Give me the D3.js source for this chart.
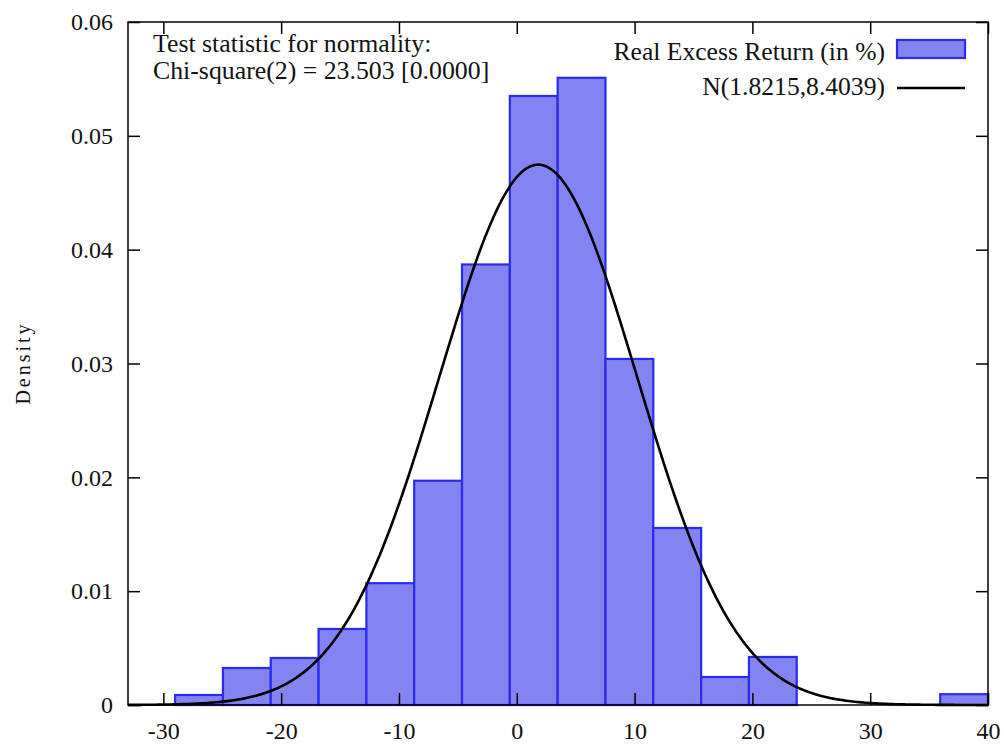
<!DOCTYPE html>
<html>
<head>
<meta charset="utf-8">
<script src="https://cdn.jsdelivr.net/npm/d3@7"></script>
<style>
  body { margin: 0; background: #fff; }
  text { font-family: "Liberation Serif", "DejaVu Serif", serif; fill: #111; }
</style>
</head>
<body>
<div id="chart"></div>
<script>
// Histogram data (density per bin), bins span binLow..binHigh
var binLow = -29.0;
var binHigh = 40.0;
var densities = [0.00088, 0.00325, 0.00413, 0.00668, 0.0107, 0.0197, 0.0387, 0.0535,
                 0.0551, 0.0304, 0.01555, 0.00246, 0.00422, 0, 0, 0, 0.00095];

// Fitted normal
var normMean = 1.8215;
var normSd = 8.4039;

var xTicks = [-30, -20, -10, 0, 10, 20, 30, 40];
var yTicks = [0, 0.01, 0.02, 0.03, 0.04, 0.05, 0.06];

var seriesLabel = "Real Excess Return (in %)";
var normLabel = "N(1.8215,8.4039)";
var testLines = ["Test statistic for normality:", "Chi-square(2) = 23.503 [0.0000]"];

var W = 1004, H = 747;
var margin = {top: 22, right: 16, bottom: 42, left: 128};
var width = W - margin.left - margin.right;
var height = H - margin.top - margin.bottom;

var svg = d3.select("#chart").append("svg")
    .attr("width", W).attr("height", H)
  .append("g")
    .attr("transform", "translate(" + margin.left + "," + margin.top + ")");

var x = d3.scaleLinear().domain([-33, 40]).range([0, width]);
var y = d3.scaleLinear().domain([0, 0.06]).range([height, 0]);

var binWidth = (binHigh - binLow) / densities.length;
var bins = densities.map(function(d, i) {
    return {x0: binLow + i * binWidth, x1: binLow + (i + 1) * binWidth, d: d};
});

// bars
svg.selectAll(".bar")
    .data(bins)
    .enter().append("rect")
    .attr("class", "bar")
    .attr("x", function(b) { return x(b.x0); })
    .attr("width", function(b) { return x(b.x1) - x(b.x0); })
    .attr("y", function(b) { return y(b.d); })
    .attr("height", function(b) { return y(0) - y(b.d); })
    .style("fill", "#8383f2")
    .style("stroke", "#2b2bee")
    .style("stroke-width", 2.2);

// normal density curve
var pdf = function(v) {
    var z = (v - normMean) / normSd;
    return Math.exp(-0.5 * z * z) / (normSd * Math.sqrt(2 * Math.PI));
};
var curveXs = d3.range(0, 401).map(function(i) { return -33 + i * 73 / 400; });
svg.append("path")
    .datum(curveXs)
    .attr("fill", "none")
    .attr("stroke", "#000")
    .attr("stroke-width", 2.6)
    .attr("d", d3.line()
        .x(function(v) { return x(v); })
        .y(function(v) { return y(pdf(v)); }));

// axes with inward ticks, mirrored
var tickLen = 12;
svg.append("g")
    .attr("transform", "translate(0," + height + ")")
    .call(d3.axisBottom(x).tickValues(xTicks).tickSize(-tickLen).tickPadding(24)
        .tickFormat(function(v) { return String(v); }))
    .call(function(g) {
        g.select(".domain").remove();
        g.selectAll("text").style("font-size", "24px").attr("dy", "0.4em");
    });
svg.append("g")
    .call(d3.axisTop(x).tickValues(xTicks).tickSize(-tickLen).tickFormat(""))
    .call(function(g) { g.select(".domain").remove(); });
svg.append("g")
    .call(d3.axisLeft(y).tickValues(yTicks).tickSize(-tickLen).tickPadding(15)
        .tickFormat(function(v) { return v === 0 ? "0" : d3.format(".2f")(v); }))
    .call(function(g) {
        g.select(".domain").remove();
        g.selectAll("text").style("font-size", "24px");
    });
svg.append("g")
    .attr("transform", "translate(" + width + ",0)")
    .call(d3.axisRight(y).tickValues(yTicks).tickSize(-tickLen).tickFormat(""))
    .call(function(g) { g.select(".domain").remove(); });
svg.selectAll(".tick line").attr("stroke", "#000").attr("stroke-width", 1.5);

// border
svg.append("rect")
    .attr("width", width).attr("height", height)
    .style("fill", "none").style("stroke", "#000").style("stroke-width", 1.5);

// y label
svg.append("text")
    .attr("transform", "translate(" + (23 - margin.left) + "," + (363 - margin.top) + ") rotate(-90)")
    .attr("text-anchor", "middle")
    .attr("dy", "0.35em")
    .style("font-size", "20px")
    .style("letter-spacing", "3px")
    .text("Density");

// test statistic
svg.selectAll(".note")
    .data(testLines)
    .enter().append("text")
    .attr("class", "note")
    .attr("x", 153 - margin.left)
    .attr("y", function(t, i) { return 52 - margin.top + i * 26.5; })
    .style("font-size", "25.8px")
    .text(function(t) { return t; });

// legend
var legX = 885 - margin.left;
svg.append("text")
    .attr("x", legX).attr("y", 60 - margin.top)
    .attr("text-anchor", "end")
    .style("font-size", "25.6px")
    .text(seriesLabel);
svg.append("rect")
    .attr("x", 897 - margin.left).attr("y", 40 - margin.top)
    .attr("width", 68).attr("height", 18)
    .style("fill", "#8383f2").style("stroke", "#2b2bee").style("stroke-width", 2.2);
svg.append("text")
    .attr("x", legX).attr("y", 95 - margin.top)
    .attr("text-anchor", "end")
    .style("font-size", "25.6px")
    .text(normLabel);
svg.append("line")
    .attr("x1", 897 - margin.left).attr("x2", 965 - margin.left)
    .attr("y1", 88 - margin.top).attr("y2", 88 - margin.top)
    .attr("stroke", "#000").attr("stroke-width", 2.6);
</script>
</body>
</html>
